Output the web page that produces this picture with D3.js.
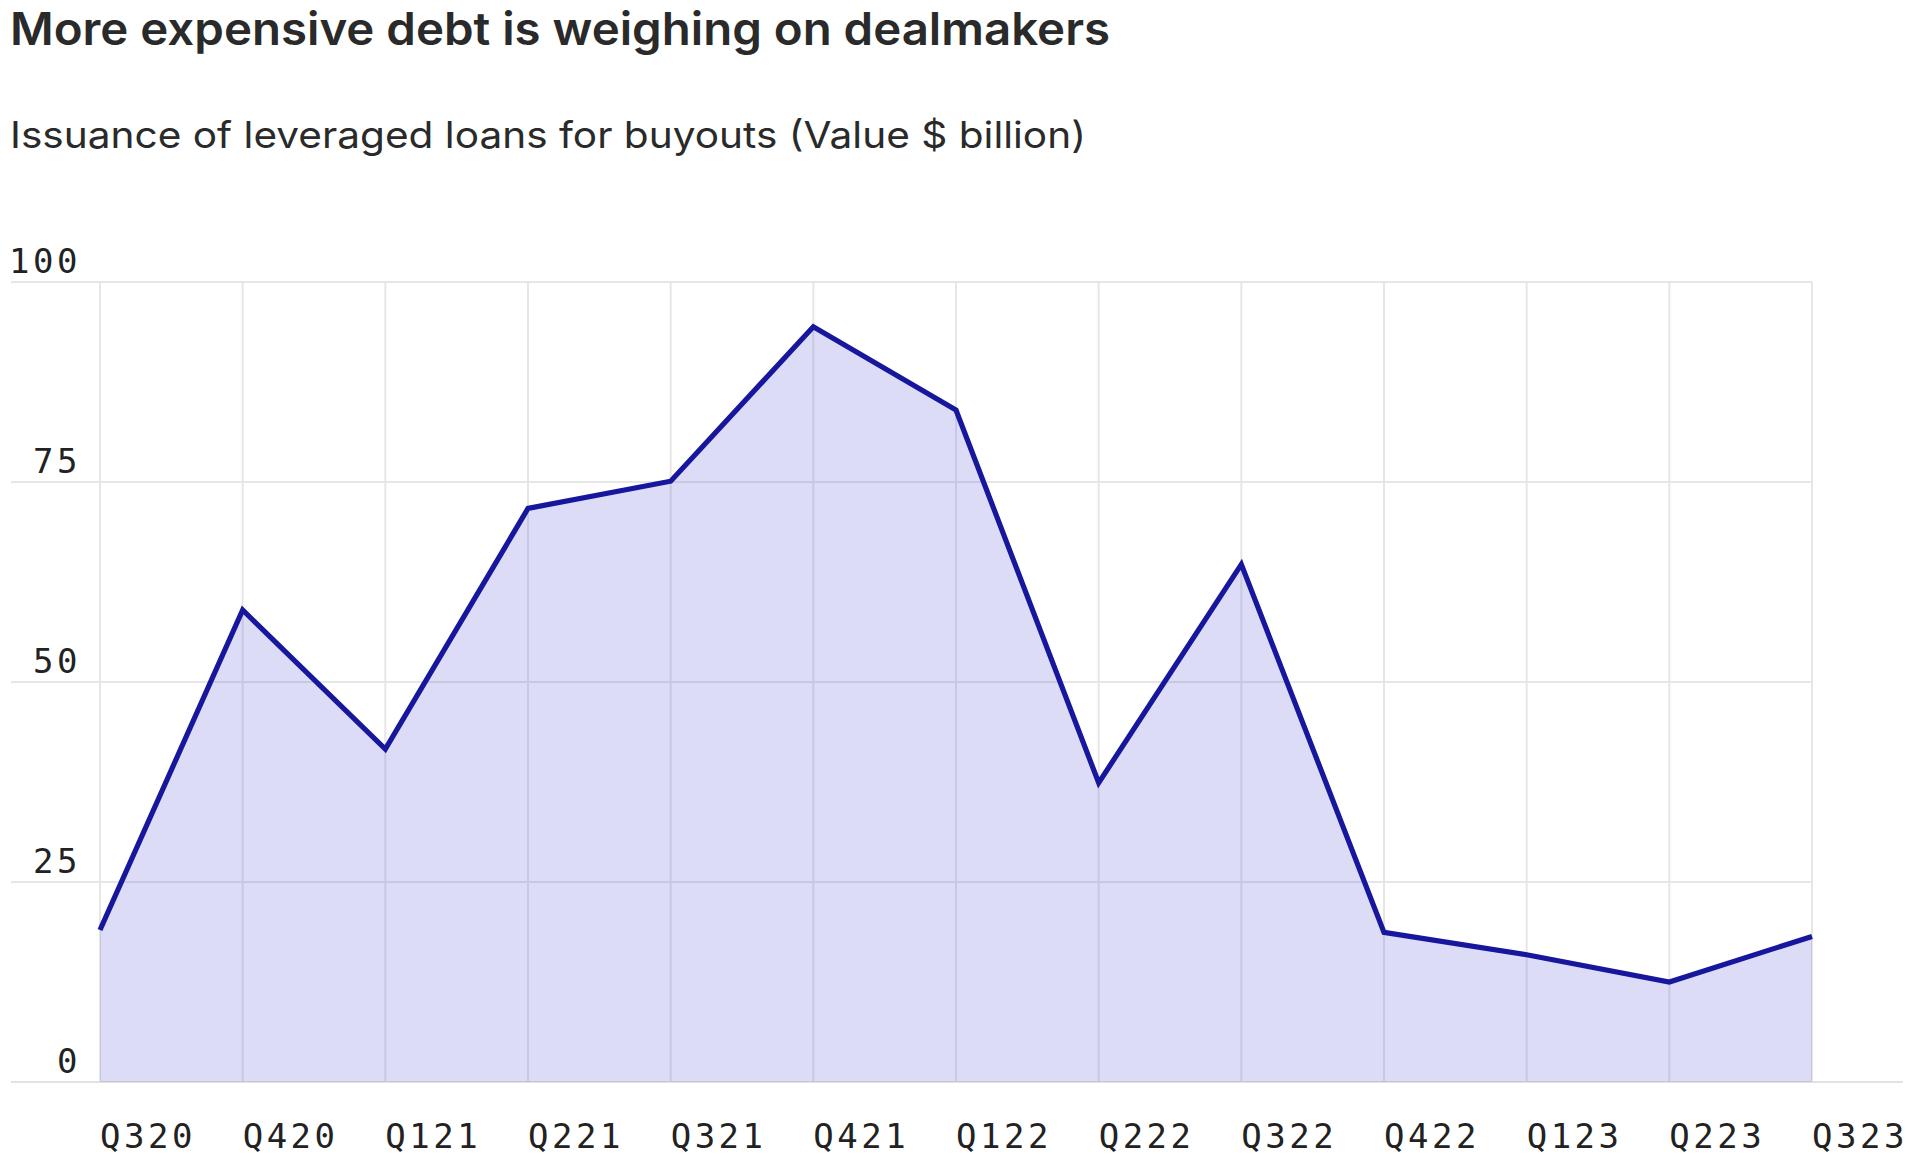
<!DOCTYPE html>
<html>
<head>
<meta charset="utf-8">
<script src="https://cdn.jsdelivr.net/npm/d3@7"></script>
<style>
  html, body { margin: 0; padding: 0; background: #ffffff; }
  svg { display: block; }
</style>
</head>
<body>
<svg id="chart" width="1920" height="1176"></svg>
<script>
const titleText = "More expensive debt is weighing on dealmakers";
const subtitleText = "Issuance of leveraged loans for buyouts (Value $ billion)";
const quarters = ["Q320","Q420","Q121","Q221","Q321","Q421","Q122","Q222","Q322","Q422","Q123","Q223","Q323"];
const loanValues = [19.0, 59.0, 41.6, 71.7, 75.1, 94.4, 84.0, 37.4, 64.7, 18.7, 15.9, 12.5, 18.2];
const yTicks = [0, 25, 50, 75, 100];

(function () {
const svg = d3.select("#chart");
const plotLeft = 100, plotRight = 1812, plotTop = 282, plotBottom = 1082;
const gridLeft = 11, axisRight = 1903;

const x = d3.scalePoint().domain(quarters).range([plotLeft, plotRight]);
const y = d3.scaleLinear().domain([0, 100]).range([plotBottom, plotTop]);

// Title & subtitle
const sans = "Inter, 'Noto Sans', Roboto, sans-serif";
svg.append("text")
  .attr("x", 10).attr("y", 45)
  .attr("font-family", sans).attr("font-weight", 600)
  .attr("font-size", 45).attr("fill", "#2a2a2a")
  .attr("textLength", 1100).attr("lengthAdjust", "spacingAndGlyphs")
  .text(titleText);
svg.append("text")
  .attr("x", 10).attr("y", 148)
  .attr("font-family", sans).attr("font-weight", 400)
  .attr("font-size", 37).attr("fill", "#2a2a2a")
  .attr("textLength", 1076).attr("lengthAdjust", "spacingAndGlyphs")
  .text(subtitleText);

// Horizontal gridlines
const g = svg.append("g");
g.selectAll("line.hgrid")
  .data(yTicks.filter(d => d > 0))
  .join("line")
  .attr("class", "hgrid")
  .attr("x1", gridLeft).attr("x2", plotRight)
  .attr("y1", d => y(d)).attr("y2", d => y(d))
  .attr("stroke", "#e6e6e6").attr("stroke-width", 2);

// Vertical gridlines
g.selectAll("line.vgrid")
  .data(quarters)
  .join("line")
  .attr("class", "vgrid")
  .attr("x1", d => x(d)).attr("x2", d => x(d))
  .attr("y1", y(100)).attr("y2", y(0))
  .attr("stroke", "#e6e6e6").attr("stroke-width", 2);

// Baseline
g.append("line")
  .attr("x1", gridLeft).attr("x2", axisRight)
  .attr("y1", y(0)).attr("y2", y(0))
  .attr("stroke", "#e2e2e2").attr("stroke-width", 2);

// Area
const data = quarters.map((q, i) => ({ q, v: loanValues[i] }));
svg.append("path")
  .datum(data)
  .attr("fill", "rgb(80,80,215)")
  .attr("fill-opacity", 0.2)
  .attr("d", d3.area().x(d => x(d.q)).y0(y(0)).y1(d => y(d.v)));

// Line
svg.append("path")
  .datum(data)
  .attr("fill", "none")
  .attr("stroke", "#16179c")
  .attr("stroke-width", 5.2)
  .attr("stroke-linejoin", "miter")
  .attr("d", d3.line().x(d => x(d.q)).y(d => y(d.v)));

// Y tick labels
const mono = "'DejaVu Sans Mono', 'Liberation Mono', monospace";
svg.append("g").selectAll("text")
  .data(yTicks)
  .join("text")
  .attr("x", 81)
  .attr("y", d => y(d) - 9)
  .attr("text-anchor", "end")
  .attr("font-family", mono)
  .attr("font-size", 34)
  .attr("letter-spacing", 3.5)
  .attr("fill", "#222222")
  .text(d => d);

// X tick labels
svg.append("g").selectAll("text")
  .data(quarters)
  .join("text")
  .attr("x", d => x(d))
  .attr("y", 1148)
  .attr("text-anchor", "start")
  .attr("font-family", mono)
  .attr("font-size", 34)
  .attr("letter-spacing", 3.5)
  .attr("fill", "#222222")
  .text(d => d);
})();
</script>
</body>
</html>
